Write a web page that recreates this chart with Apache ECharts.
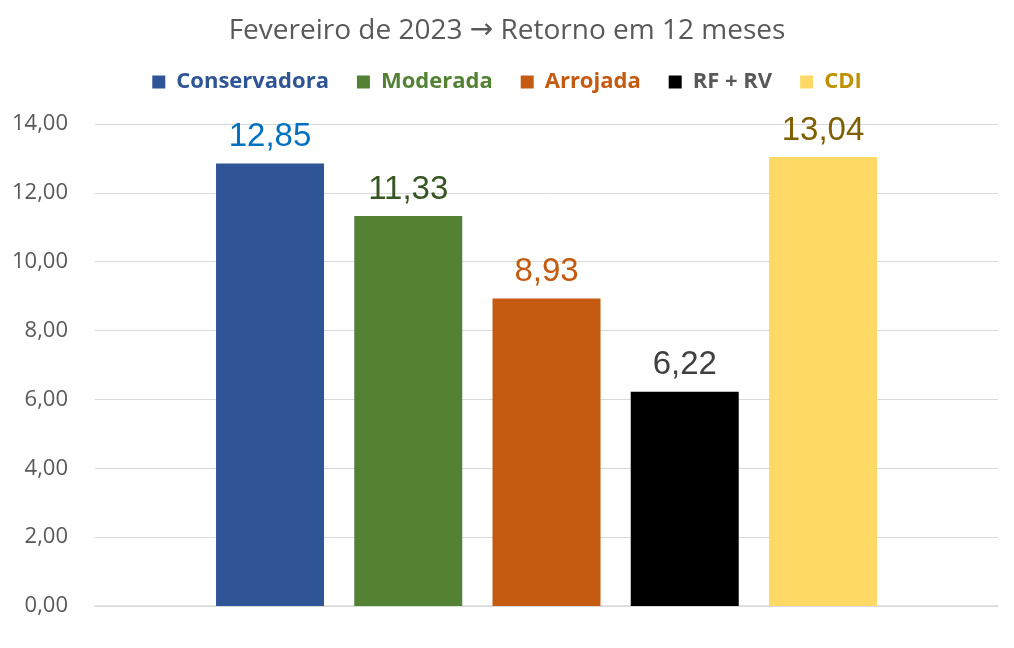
<!DOCTYPE html>
<html><head><meta charset="utf-8">
<script src="https://cdn.jsdelivr.net/npm/echarts@6/dist/echarts.min.js"></script>
<style>html,body{margin:0;padding:0;background:#fff}#c{width:1014px;height:648px}</style>
</head><body><div id="c"></div>
<script>
const seriesNames = ['Conservadora', 'Moderada', 'Arrojada', 'RF + RV', 'CDI'];
const seriesValues = [12.85, 11.33, 8.93, 6.22, 13.04];
const barColors = ['#2F5597', '#548235', '#C55A11', '#000000', '#FFD966'];
const labelColors = ['#0070C0', '#375623', '#C55A11', '#404040', '#7F6000'];
const legendColors = ['#2F5597', '#548235', '#C55A11', '#595959', '#BF9000'];
const categories = [''];
const titleParts = ['Fevereiro de 2023 ', '\u2192', ' Retorno em 12 meses'];

const fmt = v => v.toFixed(2).replace('.', ',');
const chart = echarts.init(document.getElementById('c'));
chart.setOption({
  animation: false,
  title: { text: titleParts[0] + '{a|' + titleParts[1] + '}' + titleParts[2], left: 'center', top: 12,
    textStyle: { fontFamily: 'Open Sans', fontWeight: 'normal', fontSize: 28, color: '#595959',
      rich: { a: { fontFamily: 'DejaVu Sans', fontSize: 28, color: '#595959' } } } },
  legend: {
    top: 66, left: 'center', itemWidth: 13, itemHeight: 13, itemGap: 28, icon: 'rect',
    data: seriesNames.map((n, i) => ({ name: n, textStyle: { color: legendColors[i] } })),
    textStyle: { fontFamily: 'Open Sans', fontWeight: 'bold', fontSize: 22, padding: [0, 0, 0, 6] }
  },
  grid: { left: 95, right: 16, top: 124, bottom: 42, containLabel: false },
  xAxis: { type: 'category', data: categories, axisLine: { lineStyle: { color: '#D9D9D9', width: 1.5 } },
    axisTick: { show: false }, axisLabel: { show: false } },
  yAxis: { type: 'value', min: 0, max: 14, interval: 2,
    axisLine: { show: false }, axisTick: { show: false },
    splitLine: { lineStyle: { color: '#D9D9D9', width: 1 } },
    axisLabel: { formatter: v => fmt(v), color: '#595959', fontFamily: 'Open Sans', fontSize: 22, margin: 27 } },
  series: seriesNames.map((n, i) => ({
    name: n, type: 'bar', data: [seriesValues[i]], barWidth: 108, barGap: '28%',
    itemStyle: { color: barColors[i] },
    label: { show: true, position: 'top', distance: 10, formatter: p => fmt(p.value),
      color: labelColors[i], fontFamily: 'Liberation Sans', fontSize: 33 }
  }))
});
</script></body></html>
